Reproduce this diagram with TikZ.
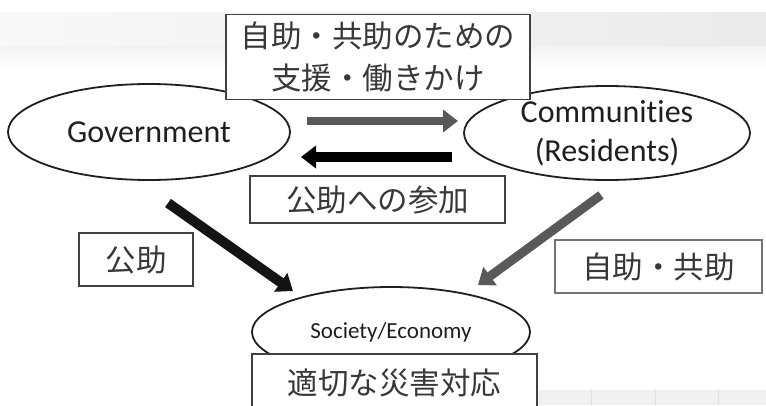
\documentclass[tikz,border=0pt]{standalone}
\usepackage{fontspec}
\setmainfont{Carlito}[Ligatures=NoCommon]
\newfontfamily\jp{Noto Sans CJK JP}
\usetikzlibrary{shapes.geometric,arrows.meta}
\begin{document}
\begin{tikzpicture}[x=1pt,y=-1pt,
  ell/.style={draw=black!88, line width=1.8pt, ellipse, fill=white, inner sep=0pt, text=black!88},
  jbox/.style={draw=black!75, line width=1.6pt, fill=white, inner sep=0pt, font=\jp\fontsize{30.5}{42}\selectfont, text=black!78, align=center},
  fat/.style={line width=#1, -{Triangle[length=15pt,width=22pt]}},
]
\useasboundingbox (0,0) rectangle (766,405);
% background
\shade[left color=gray!5, right color=gray!16] (0,12) rectangle (766,46);
\shade[top color=gray!10, bottom color=white] (0,46) rectangle (766,68);
\fill[gray!12] (537,390) rectangle (766,405);
\foreach \xx in {591,655,718} \draw[gray!25, line width=0.6pt] (\xx,390) -- (\xx,405);

% ellipses
\node[ell, minimum width=282pt, minimum height=96pt, font=\fontsize{32}{39}\selectfont] (gov) at (149,132) {Government};
\node[ell, minimum width=286pt, minimum height=94pt, font=\fontsize{32}{39}\selectfont, align=center] (com) at (607,133) {Communities\\(Residents)};
\node[ell, minimum width=278pt, minimum height=90pt, font=\fontsize{23}{28}\selectfont] (soc) at (391,332) {Society/Economy};

% boxes
\node[jbox, minimum width=304pt, minimum height=85pt] (sup) at (378,57) {自助・共助のための\\支援・働きかけ};
\node[jbox, minimum width=255pt, minimum height=47pt] (part) at (377.5,199.5) {公助への参加};
\node[jbox, minimum width=114pt, minimum height=53pt] (pub) at (136,259.5) {公助};
\node[jbox, draw=black!55, minimum width=207pt, minimum height=53pt] (self) at (658.5,266.5) {自助・共助};
\node[jbox, minimum width=285pt, minimum height=58pt] (resp) at (394.5,383) {適切な災害対応};

% arrows
\coordinate (r1) at (307,121); \coordinate (r2) at (458,121);
\coordinate (l1) at (452,157); \coordinate (l2) at (301,157);
\coordinate (d1) at (168,203); \coordinate (d2) at (293,291);
\coordinate (e1) at (601,195); \coordinate (e2) at (478,285);
\draw[fat=8pt, black!65] (r1) -- (r2);
\draw[fat=10pt, black] (l1) -- (l2);
\draw[fat=10pt, black!92] (d1) -- (d2);
\draw[fat=9pt, black!65] (e1) -- (e2);
\end{tikzpicture}
\end{document}
